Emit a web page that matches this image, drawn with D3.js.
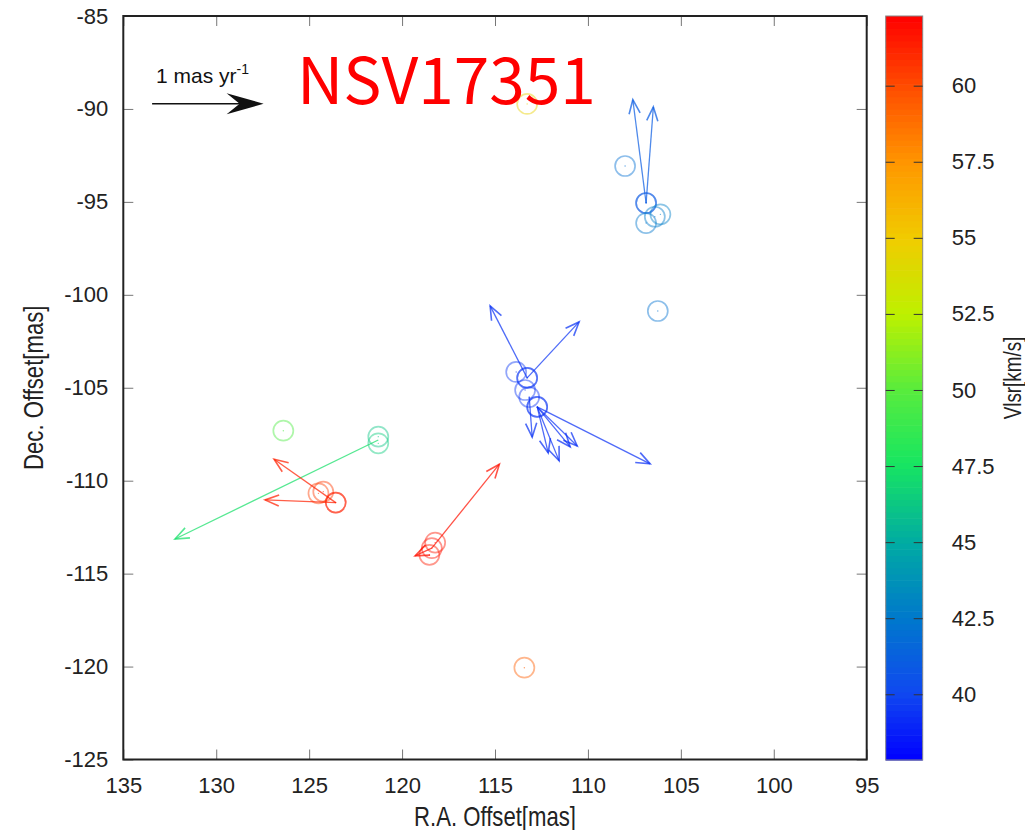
<!DOCTYPE html>
<html>
<head>
<meta charset="utf-8">
<script src="https://cdn.jsdelivr.net/npm/d3@7"></script>
<style>
  body { margin: 0; background: #fff; }
  svg { display: block; }
</style>
</head>
<body>
<svg id="chart" width="1025" height="830"></svg>
<script>
// maser spots: position offsets [mas] and Vlsr [km/s]
var spotRA  = [113.27, 108.0, 106.87, 106.87, 106.87, 106.4, 106.1, 106.24,
               113.86, 113.27, 113.27, 113.38, 113.16, 112.73, 112.73,
               126.39, 121.28, 121.28,
               124.5, 124.24, 123.57, 123.57,
               118.22, 118.4, 118.53, 113.42];
var spotDec = [-89.73, -93.07, -95.06, -95.06, -96.14, -95.8, -95.67, -100.87,
               -104.15, -104.47, -104.47, -105.12, -105.5, -106.03, -106.03,
               -107.31, -107.63, -107.99,
               -110.68, -110.59, -111.18, -111.18,
               -113.33, -113.63, -113.99, -120.06];
var spotV   = [54.6, 42.0, 40.8, 41.0, 42.4, 42.6, 42.8, 42.2,
               39.6, 39.4, 39.6, 39.5, 39.4, 39.3, 39.5,
               49.6, 46.2, 46.4,
               60.4, 60.6, 61.2, 61.4,
               61.6, 61.8, 61.5, 59.4];

// proper motions [mas/yr], starting at the spot they belong to
var pmRA0   = [106.87, 106.87, 113.27, 113.27, 113.16, 112.73, 112.73, 112.73, 112.73, 112.73,
               121.28, 123.57, 123.57, 118.4, 118.4];
var pmDec0  = [-95.06, -95.06, -104.47, -104.47, -105.5, -106.03, -106.03, -106.03, -106.03, -106.03,
               -107.81, -111.18, -111.18, -113.63, -113.63];
var pmRA    = [0.119, -0.065, 0.332, -0.466, -0.027, -0.197, -0.099, -0.296, -0.359, -1.013,
               1.823, 0.553, 0.634, -0.606, 0.150];
var pmDec   = [0.926, 0.861, 0.646, 0.502, -0.359, -0.484, -0.413, -0.359, -0.350, -0.511,
               -0.888, 0.389, 0.024, 0.753, -0.069];
var pmV     = [41.0, 41.0, 39.4, 39.4, 39.4, 39.3, 39.3, 39.3, 39.3, 39.3,
               47.3, 61.3, 61.3, 61.8, 61.8];

var xTicks  = [135, 130, 125, 120, 115, 110, 105, 100, 95];
var yTicks  = [-85, -90, -95, -100, -105, -110, -115, -120, -125];
var cbTicks = [40, 42.5, 45, 47.5, 50, 52.5, 55, 57.5, 60];
var cbRange = [37.84, 62.29];

// palette stops (fraction of colour range -> colour)
var palPos  = [0, 0.09, 0.19, 0.29, 0.40, 0.50, 0.60, 0.70, 0.80, 0.90, 1];
var palCol  = ["#0000ff", "#1048f0", "#0078cc", "#00aaa4", "#18e660", "#5aec3c",
               "#bef000", "#f0cc00", "#ff9800", "#ff5000", "#ff0000"];

var masPerPm = 6.0;   // 1 mas/yr drawn as 6 mas
var refStart = [133.45, -89.72];

var svg = d3.select("#chart");
var sans = "'Liberation Sans', Arial, Helvetica, sans-serif";
var plain = function(d) { return String(d); };   // keep ascii hyphen for minus

var x = d3.scaleLinear().domain([135, 95]).range([123.3, 866.7]);
var y = d3.scaleLinear().domain([-85, -125]).range([16, 759.5]);
var cb = d3.scaleLinear().domain(cbRange).range([760, 16]);
var col = d3.scaleLinear()
    .domain(palPos.map(function(p) { return cbRange[0] + p * (cbRange[1] - cbRange[0]); }))
    .range(palCol)
    .clamp(true);

// axes (ticks inward, mirrored)
var xAxis = svg.append("g").attr("transform", "translate(0," + y.range()[1] + ")")
    .call(d3.axisBottom(x).tickValues(xTicks).tickSize(-10).tickPadding(17.5).tickFormat(plain));
var xAxisTop = svg.append("g").attr("transform", "translate(0," + y.range()[0] + ")")
    .call(d3.axisTop(x).tickValues(xTicks).tickSize(-10).tickFormat(""));
var yAxis = svg.append("g").attr("transform", "translate(" + x.range()[0] + ",0)")
    .call(d3.axisLeft(y).tickValues(yTicks).tickSize(-10).tickPadding(15).tickFormat(plain));
var yAxisRight = svg.append("g").attr("transform", "translate(" + x.range()[1] + ",0)")
    .call(d3.axisRight(y).tickValues(yTicks).tickSize(-10).tickFormat(""));

[xAxis, xAxisTop, yAxis, yAxisRight].forEach(function(g) {
    g.select(".domain").remove();
    g.selectAll(".tick line").attr("stroke", "#777").attr("stroke-width", 1);
    g.selectAll(".tick text").attr("fill", "#222").style("font", "22px " + sans);
});

svg.append("rect")
    .attr("x", x.range()[0]).attr("y", y.range()[0])
    .attr("width", x.range()[1] - x.range()[0])
    .attr("height", y.range()[1] - y.range()[0])
    .attr("fill", "none").attr("stroke", "#222").attr("stroke-width", 2);

// axis titles (narrow Helvetica look)
svg.append("text")
    .attr("transform", "translate(" + ((x.range()[0] + x.range()[1]) / 2) + ",826) scale(0.82,1)")
    .attr("text-anchor", "middle").attr("fill", "#222")
    .style("font", "27px " + sans)
    .text("R.A. Offset[mas]");
svg.append("text")
    .attr("transform", "translate(43," + ((y.range()[0] + y.range()[1]) / 2) + ") rotate(-90) scale(0.82,1)")
    .attr("text-anchor", "middle").attr("fill", "#222")
    .style("font", "27px " + sans)
    .text("Dec. Offset[mas]");

// colour bar
var cbX0 = 885.7, cbX1 = 922.7;
var steps = d3.range(0, 120);
var stepV = (cbRange[1] - cbRange[0]) / steps.length;
svg.append("g").selectAll("rect")
    .data(steps)
    .enter().append("rect")
    .attr("x", cbX0)
    .attr("width", cbX1 - cbX0)
    .attr("y", function(i) { return cb(cbRange[0] + (i + 1) * stepV); })
    .attr("height", function(i) { return cb(cbRange[0] + i * stepV) - cb(cbRange[0] + (i + 1) * stepV) + 0.6; })
    .attr("fill", function(i) { return col(cbRange[0] + (i + 0.5) * stepV); });
svg.append("rect")
    .attr("x", cbX0).attr("y", cb.range()[1])
    .attr("width", cbX1 - cbX0).attr("height", cb.range()[0] - cb.range()[1])
    .attr("fill", "none").attr("stroke", "#888").attr("stroke-width", 1);

var cbAxisL = svg.append("g").attr("transform", "translate(" + cbX0 + ",0)")
    .call(d3.axisLeft(cb).tickValues(cbTicks).tickSize(-9).tickFormat(""));
var cbAxisR = svg.append("g").attr("transform", "translate(" + cbX1 + ",0)")
    .call(d3.axisRight(cb).tickValues(cbTicks).tickSize(-9).tickPadding(29).tickFormat(plain));
[cbAxisL, cbAxisR].forEach(function(g) {
    g.select(".domain").remove();
    g.selectAll(".tick line").attr("stroke", "#333").attr("stroke-width", 1);
    g.selectAll(".tick text").attr("fill", "#222").style("font", "22px " + sans);
});

svg.append("text")
    .attr("transform", "translate(1021,378) rotate(-90) scale(0.82,1)")
    .attr("text-anchor", "middle").attr("fill", "#222")
    .style("font", "23px " + sans)
    .text("Vlsr[km/s]");

// spots
var spots = d3.range(spotRA.length);
svg.append("g").selectAll("circle")
    .data(spots)
    .enter().append("circle")
    .attr("cx", function(i) { return x(spotRA[i]); })
    .attr("cy", function(i) { return y(spotDec[i]); })
    .attr("r", 10)
    .attr("fill", "none")
    .attr("stroke", function(i) { return col(spotV[i]); })
    .attr("stroke-width", 1.7)
    .attr("stroke-opacity", 0.45);
svg.append("g").selectAll("circle")
    .data(spots)
    .enter().append("circle")
    .attr("cx", function(i) { return x(spotRA[i]); })
    .attr("cy", function(i) { return y(spotDec[i]); })
    .attr("r", 0.7)
    .attr("fill", function(i) { return col(spotV[i]); })
    .attr("fill-opacity", 0.6);

// proper-motion arrows with open heads
function headPath(x0, y0, x1, y1, len, ang) {
    var a = Math.atan2(y1 - y0, x1 - x0);
    var p1 = [x1 - len * Math.cos(a - ang), y1 - len * Math.sin(a - ang)];
    var p2 = [x1 - len * Math.cos(a + ang), y1 - len * Math.sin(a + ang)];
    return "M" + p1 + "L" + x1 + "," + y1 + "L" + p2;
}

var arrows = svg.append("g").selectAll("g")
    .data(d3.range(pmRA.length))
    .enter().append("g")
    .attr("stroke", function(i) { return col(pmV[i]); })
    .attr("stroke-opacity", 0.72)
    .attr("stroke-width", 1.3)
    .attr("fill", "none");
arrows.append("line")
    .attr("x1", function(i) { return x(pmRA0[i]); })
    .attr("y1", function(i) { return y(pmDec0[i]); })
    .attr("x2", function(i) { return x(pmRA0[i] + pmRA[i] * masPerPm); })
    .attr("y2", function(i) { return y(pmDec0[i] + pmDec[i] * masPerPm); });
arrows.append("path")
    .attr("stroke-width", 1.6)
    .attr("d", function(i) {
        return headPath(x(pmRA0[i]), y(pmDec0[i]),
            x(pmRA0[i] + pmRA[i] * masPerPm), y(pmDec0[i] + pmDec[i] * masPerPm), 15, 0.38);
    });

// reference arrow: 1 mas/yr
var rx0 = x(refStart[0]), ry = y(refStart[1]);
var rx1 = x(refStart[0] - 1 * masPerPm);
svg.append("line")
    .attr("x1", rx0).attr("y1", ry).attr("x2", rx1 - 20).attr("y2", ry)
    .attr("stroke", "#111").attr("stroke-width", 1.3);
svg.append("path")
    .attr("d", "M" + rx1 + "," + ry + "L" + (rx1 - 37) + "," + (ry - 10.5) +
               "L" + (rx1 - 24) + "," + ry + "L" + (rx1 - 37) + "," + (ry + 10.5) + "Z")
    .attr("fill", "#111");
var refLabel = svg.append("text")
    .attr("x", rx0 + 4).attr("y", 83)
    .attr("fill", "#111")
    .style("font", "21px " + sans);
refLabel.append("tspan").text("1 mas yr");
refLabel.append("tspan").attr("dy", -9).style("font-size", "14px").text("-1");

// title
svg.append("text")
    .attr("x", 297).attr("y", 103.5)
    .attr("fill", "#ff0000")
    .style("font", "64px 'Noto Sans CJK JP', 'Noto Sans', sans-serif")
    .text("NSV17351");
</script>
</body>
</html>
